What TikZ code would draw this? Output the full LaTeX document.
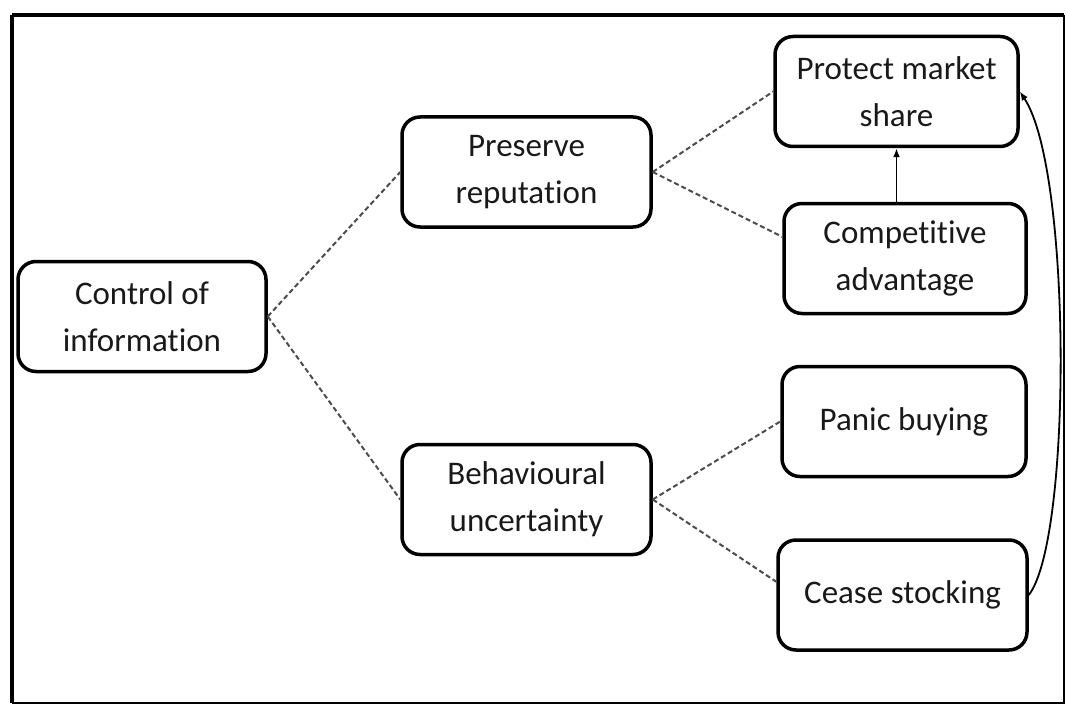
\documentclass[tikz,border=0pt]{standalone}
\usepackage{fontspec}
\setmainfont[Ligatures=NoCommon]{Carlito}
\usetikzlibrary{arrows.meta}

\begin{document}
\begin{tikzpicture}[x=1pt,y=-1pt,
  box/.style={draw=black, line width=3.5pt, rounded corners=18pt,
    align=center, inner sep=0pt, minimum height=110pt,
    text=black!90, font=\fontsize{33}{47}\selectfont},
  link/.style={draw=black!70, line width=2pt, dash pattern=on 5pt off 3pt},
  flow/.style={draw=black, line width=1.8pt,
    -{Latex[length=9pt,width=7pt]}}
]
\useasboundingbox (0,0) rectangle (1066,706);

% outer frame
\draw[line width=3.5pt] (12,15) -- (12,703);
\draw[line width=3.5pt] (12,15) -- (1064,15);
\draw[line width=2pt] (12,703) -- (1064,703) -- (1064,15);

% boxes
\node[box, minimum width=248pt] (ctrl)  at (142,316.5) {Control of\\information};
\node[box, minimum width=249pt] (pres)  at (526.5,172) {Preserve\\reputation};
\node[box, minimum width=249pt] (behav) at (526.5,499.5) {Behavioural\\uncertainty};
\node[box, minimum width=243pt] (prot)  at (896.5,91.5) {Protect market\\share};
\node[box, minimum width=242pt] (comp)  at (905,258.5) {Competitive\\advantage};
\node[box, minimum width=244pt] (panic) at (904,421.5) {Panic buying};
\node[box, minimum width=249pt] (cease) at (902.5,595) {Cease stocking};

% dashed relations
\draw[link] (ctrl.east) -- (pres.west);
\draw[link] (ctrl.east) -- (behav.west);
\draw[link] (pres.east) -- (prot.west);
\draw[link] (pres.east) -- (comp.170);
\draw[link] (behav.east) -- (panic.west);
\draw[link] (behav.east) -- (cease.174);

% arrows
\draw[flow] (prot.south |- comp.north) -- (prot.south);
\draw[flow] (cease.east) .. controls (1072,540) and (1072,170) .. (prot.east);
\end{tikzpicture}
\end{document}
